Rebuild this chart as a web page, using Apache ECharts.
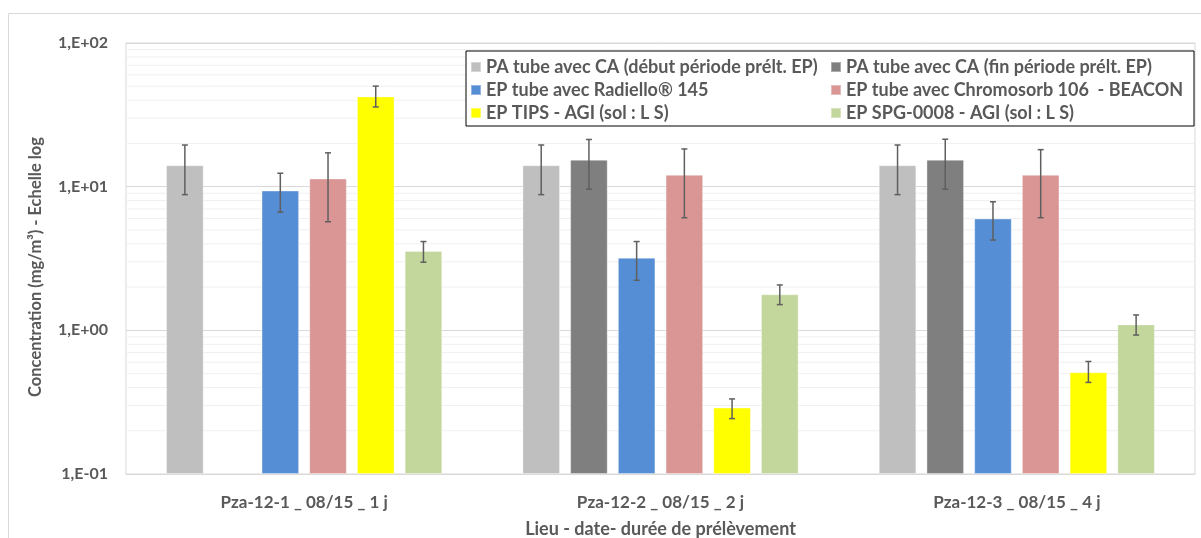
<!DOCTYPE html>
<html>
<head>
<meta charset="utf-8">
<script src="https://cdn.jsdelivr.net/npm/echarts@6/dist/echarts.min.js"></script>
<style>
html,body{margin:0;padding:0;background:#fff;}
#chart{width:1201px;height:538px;}
</style>
</head>
<body>
<div id="chart"></div>
<script>
var categories = ['Pza-12-1 _ 08/15 _ 1 j', 'Pza-12-2 _ 08/15 _ 2 j', 'Pza-12-3 _ 08/15 _ 4 j'];
var seriesNames = [
  'PA tube avec CA (début période prélt. EP)',
  'PA tube avec CA (fin période prélt. EP)',
  'EP tube avec Radiello® 145',
  'EP tube avec Chromosorb 106  - BEACON',
  'EP TIPS - AGI (sol : L S)',
  'EP SPG-0008 - AGI (sol : L S)'
];
var seriesColors = ['#bfbfbf', '#7f7f7f', '#558ed5', '#d99694', '#ffff00', '#c3d69b'];

var paDebut    = [14.1, 14.1, 14.1];
var paFin      = [null, 15.4, 15.4];
var radiello   = [9.4, 3.2, 6.0];
var chromosorb = [11.4, 12.1, 12.1];
var tips       = [42.5, 0.29, 0.51];
var spg        = [3.57, 1.78, 1.10];

var paDebutLow    = [8.8, 8.8, 8.8];
var paDebutHigh   = [19.5, 19.5, 19.5];
var paFinLow      = [null, 9.6, 9.6];
var paFinHigh     = [null, 21.3, 21.4];
var radielloLow   = [6.65, 2.23, 4.25];
var radielloHigh  = [12.4, 4.15, 7.85];
var chromLow      = [5.7, 6.08, 6.08];
var chromHigh     = [17.2, 18.3, 18.1];
var tipsLow       = [35.9, 0.243, 0.434];
var tipsHigh      = [50.1, 0.333, 0.607];
var spgLow        = [2.98, 1.51, 0.927];
var spgHigh       = [4.15, 2.07, 1.28];

var yTickLabels = {'-1': '1,E-01', '0': '1,E+00', '1': '1,E+01', '2': '1,E+02'};
var minorGridValues = [0.2,0.3,0.4,0.5,0.6,0.7,0.8,0.9, 2,3,4,5,6,7,8,9, 20,30,40,50,60,70,80,90];

var allValues = [paDebut, paFin, radiello, chromosorb, tips, spg];
var allLow = [paDebutLow, paFinLow, radielloLow, chromLow, tipsLow, spgLow];
var allHigh = [paDebutHigh, paFinHigh, radielloHigh, chromHigh, tipsHigh, spgHigh];

var CAT_GAP = 0.225, BAR_GAP = 0.27, NSER = 6;
var FONT = 'Lato';
var TXT = '#595959';

var errData = [];
for (var s = 0; s < NSER; s++) {
  for (var c = 0; c < categories.length; c++) {
    if (allValues[s][c] != null) errData.push([c, allLow[s][c], allHigh[s][c], s]);
  }
}

var series = [];
series.push({
  type: 'custom', name: 'minorGrid', silent: true, z: 0,
  data: minorGridValues.map(function (v) { return [0, v]; }),
  encode: {x: 0, y: 1},
  renderItem: function (params, api) {
    var p = api.coord([0, api.value(1)]);
    var cs = params.coordSys;
    return {type: 'line', shape: {x1: cs.x, y1: p[1], x2: cs.x + cs.width, y2: p[1]},
      style: {stroke: '#f0f0f0', lineWidth: 1}};
  }
});
for (var i = 0; i < NSER; i++) {
  series.push({
    type: 'bar', name: seriesNames[i], data: allValues[i], z: 2,
    barGap: (BAR_GAP * 100) + '%', barCategoryGap: (CAT_GAP * 100) + '%',
    itemStyle: {color: seriesColors[i], borderColor: 'rgba(255,255,255,0.35)', borderWidth: 1}
  });
}
series.push({
  type: 'custom', name: 'errors', silent: true, z: 5,
  data: errData,
  encode: {x: 0, y: [1, 2]},
  renderItem: function (params, api) {
    var c = api.value(0), lo = api.value(1), hi = api.value(2), s = api.value(3);
    var band = api.size([1, 0])[0];
    var usable = band * (1 - CAT_GAP);
    var bw = usable / (NSER + (NSER - 1) * BAR_GAP);
    var pLo = api.coord([c, lo]);
    var pHi = api.coord([c, hi]);
    var x = pLo[0] - usable / 2 + s * bw * (1 + BAR_GAP) + bw / 2;
    var cap = 3;
    var st = {stroke: '#5f5f5f', lineWidth: 1.5};
    return {type: 'group', children: [
      {type: 'line', shape: {x1: x, y1: pLo[1], x2: x, y2: pHi[1]}, style: st},
      {type: 'line', shape: {x1: x - cap, y1: pLo[1], x2: x + cap, y2: pLo[1]}, style: st},
      {type: 'line', shape: {x1: x - cap, y1: pHi[1], x2: x + cap, y2: pHi[1]}, style: st}
    ]};
  }
});

var chart = echarts.init(document.getElementById('chart'), null, {renderer: 'canvas'});
chart.setOption({
  animation: false,
  backgroundColor: '#fff',
  textStyle: {fontFamily: FONT},
  graphic: [{
    type: 'rect', z: -10, silent: true,
    shape: {x: 8.5, y: 13.5, width: 1300, height: 700},
    style: {fill: 'none', stroke: '#d9d9d9', lineWidth: 1}
  }],
  grid: {left: 126, right: 6, top: 43, bottom: 64, show: true, borderColor: '#d9d9d9', borderWidth: 1, backgroundColor: 'transparent', outerBoundsMode: 'none', containLabel: false},
  legend: {
    data: seriesNames,
    left: 466, top: 51,
    width: 730,
    orient: 'horizontal',
    padding: [6, 7, 3, 4],
    itemGap: 3,
    itemWidth: 10, itemHeight: 10,
    icon: 'rect',
    borderColor: '#000', borderWidth: 1, backgroundColor: '#fff',
    selectedMode: false,
    textStyle: {fontFamily: FONT, fontWeight: 'bold', fontSize: 18, color: TXT, width: 341, lineHeight: 20, padding: [0, 0, 0, 0]}
  },
  xAxis: {
    type: 'category', data: categories,
    name: 'Lieu - date- durée de prélèvement',
    nameLocation: 'middle', nameGap: 46,
    nameTextStyle: {fontFamily: FONT, fontWeight: 'bold', fontSize: 18, color: TXT},
    axisLine: {lineStyle: {color: '#d9d9d9'}},
    axisTick: {show: false},
    axisLabel: {fontFamily: FONT, fontWeight: 'bold', fontSize: 17, color: TXT, margin: 20}
  },
  yAxis: {
    type: 'log', logBase: 10, min: 0.1, max: 100, startValue: 0.1,
    name: 'Concentration (mg/m³) - Echelle log',
    nameLocation: 'middle', nameGap: 82, nameRotate: 90,
    nameTextStyle: {fontFamily: FONT, fontWeight: 'bold', fontSize: 16.5, color: TXT, padding: [0, 17, 0, 0]},
    axisLine: {show: false},
    axisTick: {show: false},
    axisLabel: {
      fontFamily: FONT, fontWeight: 'bold', fontSize: 16, color: TXT, margin: 18,
      formatter: function (v) { return yTickLabels[String(Math.round(Math.log10(v)))] || ''; }
    },
    splitLine: {lineStyle: {color: '#d9d9d9', width: 1}}
  },
  series: series
});
</script>
</body>
</html>
